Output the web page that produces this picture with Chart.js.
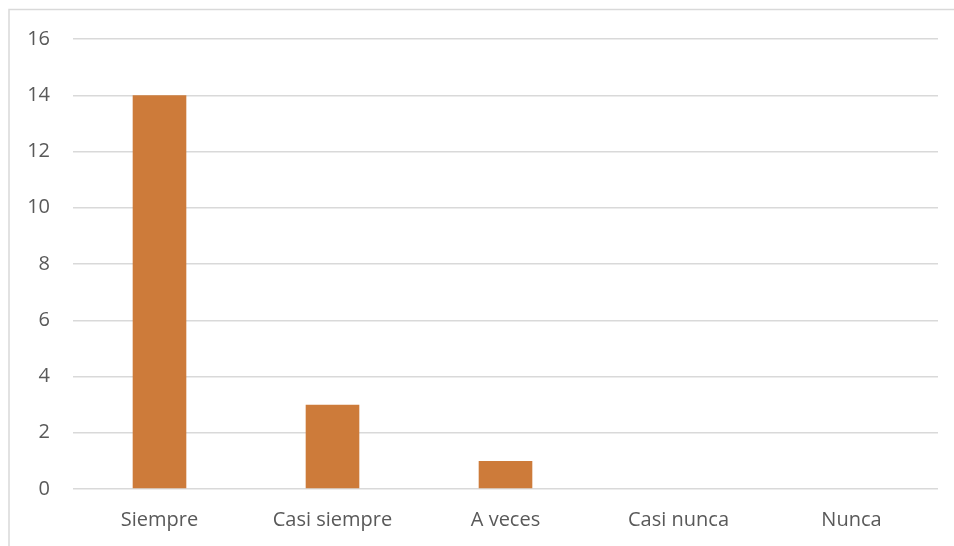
<!DOCTYPE html>
<html>
<head>
<meta charset="utf-8">
<script src="https://cdn.jsdelivr.net/npm/chart.js@4"></script>
<style>
  html, body { margin: 0; padding: 0; background: #fff; }
  #wrap { width: 954px; height: 546px; position: relative; }
</style>
</head>
<body>
<div id="wrap"><canvas id="respuestas"></canvas></div>
<script>
const categorias = ["Siempre", "Casi siempre", "A veces", "Casi nunca", "Nunca"];
const frecuencias = [14, 3, 1, 0, 0];
const ejeY = { min: 0, max: 16, paso: 2 };

// marco gris alrededor del gráfico
const marco = {
  id: "marco",
  beforeDraw(chart) {
    const ctx = chart.ctx;
    ctx.save();
    ctx.strokeStyle = "#d9d9d9";
    ctx.lineWidth = 1.5;
    ctx.strokeRect(9, 9.5, chart.width + 10, chart.height + 10);
    ctx.restore();
  }
};

const ctx = document.getElementById("respuestas").getContext("2d");
new Chart(ctx, {
  type: "bar",
  data: {
    labels: categorias,
    datasets: [{
      data: frecuencias,
      backgroundColor: "#cd7b3a",
      categoryPercentage: 1,
      barPercentage: 0.31
    }]
  },
  options: {
    responsive: true,
    maintainAspectRatio: false,
    animation: false,
    layout: { padding: { top: 39, right: 16, left: 0, bottom: 0 } },
    plugins: {
      legend: { display: false },
      tooltip: { enabled: false }
    },
    scales: {
      x: {
        grid: { display: false, drawTicks: false },
        border: { display: false },
        ticks: {
          padding: 19,
          color: "#595959",
          font: { family: "'Open Sans'", size: 20 }
        },
        afterFit: s => { s.height = 57; }
      },
      y: {
        min: ejeY.min,
        max: ejeY.max,
        grid: { color: "#d9d9d9", lineWidth: 1.5, drawTicks: false },
        border: { display: false },
        ticks: {
          stepSize: ejeY.paso,
          padding: 23,
          color: "#595959",
          font: { family: "'Open Sans'", size: 20 }
        },
        afterFit: s => { s.width = 73; }
      }
    }
  },
  plugins: [marco]
});
</script>
</body>
</html>
